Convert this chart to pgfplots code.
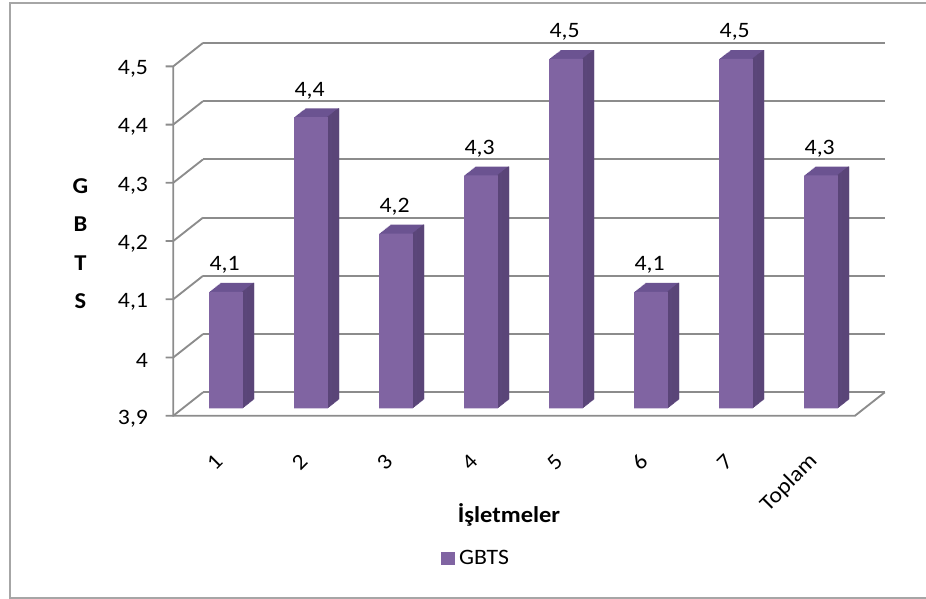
\documentclass[border=0pt]{standalone}
\usepackage{pgfplots}
\pgfplotsset{compat=1.18}
\usepackage{pgfplotstable}
\usepackage{fontspec}
\setmainfont{Carlito}[FakeStretch=1.08]
\definecolor{barfront}{HTML}{8064A2}
\definecolor{barside}{HTML}{5A4578}
\definecolor{bartop}{HTML}{6B5391}
\definecolor{gridgray}{HTML}{8C8C8C}
\definecolor{framegray}{HTML}{A6A6A6}

\pgfplotstableread{
x v
0 4.1
1 4.4
2 4.2
3 4.3
4 4.5
5 4.1
6 4.5
7 4.3
}\gbts

\begin{document}
\begin{tikzpicture}
\useasboundingbox (0,0) rectangle (694.5pt,449.25pt);
\draw[framegray, line width=1.5pt] (700pt,446.8pt) -- (7.5pt,446.8pt) -- (7.5pt,1pt) -- (700pt,1pt);
\begin{axis}[
  at={(137pt,143pt)}, anchor=south west,
  scale only axis, width=511.3pt, height=262.05pt,
  xmin=-0.51, xmax=7.51, ymin=0, ymax=0.6,
  clip=false,
  axis line style={draw=none},
  major tick length=0pt,
  tick style={draw=none},
  xtick={0,1,2,3,4,5,6,7},
  xticklabels={1,2,3,4,5,6,7,Toplam},
  ytick={0,0.1,0.2,0.3,0.4,0.5,0.6},
  yticklabels={{3,9},4,{4,1},{4,2},{4,3},{4,4},{4,5}},
  ymajorgrids,
  major grid style={draw=gridgray, line width=1.4pt, xshift=15.25pt, yshift=12pt},
  yticklabel style={anchor=east, inner sep=0pt, xshift=-25.8pt, yshift=-7.5pt, font=\fontsize{16.5}{18}\selectfont},
  xticklabel style={anchor=east, inner sep=0pt, xshift=-5.25pt, yshift=-37.3pt, rotate=45, font=\fontsize{16.5}{18}\selectfont},
  xlabel={İşletmeler},
  xlabel style={at={(axis description cs:0.4787,-0.305)}, anchor=center, font=\bfseries\fontsize{17}{20}\selectfont},
  ylabel={G\\B\\T\\S},
  every axis y label/.style={at={(axis description cs:-0.150,0.4708)}, anchor=center, align=center, font=\bfseries\fontsize{17}{28.9}\selectfont},
  legend style={draw=none, fill=none, at={(0.3785,-0.4293)}, anchor=west, inner sep=0pt, font=\fontsize{16.5}{18}\selectfont,
    /tikz/every odd column/.append style={column sep=1.5pt}},
  legend image code/.code={\fill[barfront] (0pt,-5pt) rectangle (10.2pt,5pt);},
]
% left side wall lines, front axis and ticks
\pgfplotsinvokeforeach{0,0.1,0.2,0.3,0.4,0.5,0.6}{
  \draw[gridgray, line width=1.4pt] ([shift={(-12.75pt,-5.55pt)}]axis cs:-0.51,#1) -- ([shift={(-7.05pt,-5.55pt)}]axis cs:-0.51,#1) -- ([shift={(15.25pt,12pt)}]axis cs:-0.51,#1);
}
\draw[gridgray, line width=1.4pt] ([shift={(-7.05pt,-5.55pt)}]axis cs:-0.51,0.6) -- ([shift={(-7.05pt,-5.55pt)}]axis cs:-0.51,0) -- ([shift={(-7.05pt,-5.55pt)}]axis cs:7.51,0) -- ([shift={(15.25pt,12pt)}]axis cs:7.51,0);
% bar tops (extrusion)
\pgfplotsinvokeforeach{1,...,12}{
  \addplot[forget plot, ybar, bar width=25.3pt, bar shift=0pt, fill=bartop, draw=none, xshift={#1*0.706pt}, yshift={#1*0.556pt}] table[x=x, y expr=\thisrow{v}-3.9] {\gbts};
}
% bar sides
\pgfplotsinvokeforeach{1,...,12}{
  \addplot[forget plot, ybar, bar width=1.0pt, bar shift=12.15pt, fill=barside, draw=none, xshift={#1*0.706pt}, yshift={#1*0.556pt}] table[x=x, y expr=\thisrow{v}-3.9] {\gbts};
}
% bar fronts
\addplot[ybar, bar width=25.3pt, bar shift=0pt, fill=barfront, draw=none,
  point meta=\thisrow{v},
  nodes near coords={\pgfmathprintnumber[assume math mode=true, use comma, fixed, precision=1]{\pgfplotspointmeta}},
  every node near coord/.append style={anchor=south, inner sep=0pt, yshift=13.5pt, xshift=-1pt, font=\fontsize{16.5}{18}\selectfont, text=black}]
  table[x=x, y expr=\thisrow{v}-3.9] {\gbts};
\addlegendentry{GBTS}
\end{axis}
\end{tikzpicture}
\end{document}
